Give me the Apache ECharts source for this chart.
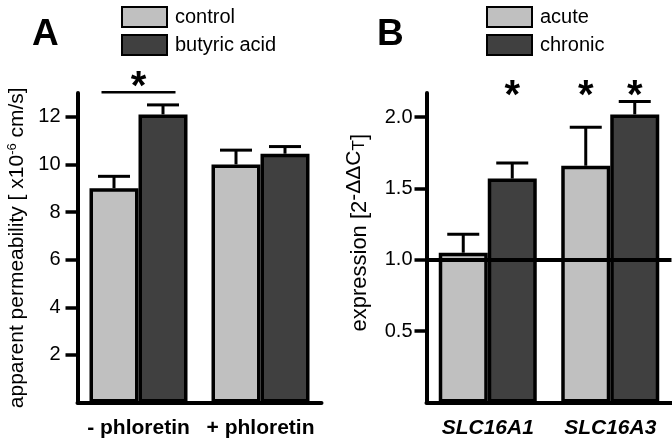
<!DOCTYPE html>
<html><head><meta charset="utf-8">
<script src="https://cdn.jsdelivr.net/npm/echarts@6/dist/echarts.min.js"></script>
<style>html,body{margin:0;padding:0;background:#fff}#c{width:672px;height:441px}</style>
</head><body><div id="c"></div>
<script>
// Panel A data
const catsA = ['- phloretin', '+ phloretin'];
const controlA = [9.0, 10.0];
const controlErrA = [9.5, 10.6];
const butyricA = [12.1, 10.45];
const butyricErrA = [12.5, 10.75];
const ticksA = [2, 4, 6, 8, 10, 12];
const sigA = [[0, 13.03]];
const starsA = [[0, 13.22]];
// Panel B data
const catsB = ['SLC16A1', 'SLC16A3'];
const acuteB = [1.05, 1.66];
const acuteErrB = [1.18, 1.93];
const chronicB = [1.57, 2.02];
const chronicErrB = [1.68, 2.11];
const ticksB = [0.5, 1.0, 1.5, 2.0];
const starsB = [[0, 1, 2.145], [1, 0, 2.145], [1, 1, 2.145]];

const LIGHT = '#c0c0c0', DARK = '#404040';
const FONT = 'Liberation Sans, Arial, sans-serif';
const BW = 49;

function errSeries(xi, yi, vals, errs, side) {
  return {
    type: 'custom', xAxisIndex: xi, yAxisIndex: yi, z: 1, silent: true,
    data: vals.map((v, i) => [i, v, errs[i]]),
    renderItem: function (params, api) {
      const top = api.coord([api.value(0), api.value(2)]);
      const base = api.coord([api.value(0), api.value(1)]);
      const x = top[0] + side * BW / 2;
      const st = { stroke: '#000', lineWidth: 3 };
      return { type: 'group', children: [
        { type: 'line', shape: { x1: x, y1: base[1], x2: x, y2: top[1] }, style: st },
        { type: 'line', shape: { x1: x - 16, y1: top[1], x2: x + 16, y2: top[1] }, style: st }
      ]};
    }
  };
}

function starSeries(xi, yi, data, hasSide) {
  return {
    type: 'custom', xAxisIndex: xi, yAxisIndex: yi, clip: false, silent: true, z: 5,
    data: data,
    renderItem: function (params, api) {
      const p = hasSide ? api.coord([api.value(0), api.value(2)]) : api.coord([api.value(0), api.value(1)]);
      const off = hasSide ? (api.value(1) ? BW / 2 : -BW / 2) : 0;
      return { type: 'text', x: p[0] + off, y: p[1],
        style: { text: '*', fontSize: 40, fontWeight: 'bold', fontFamily: FONT, fill: '#000',
          align: 'center', verticalAlign: 'middle' } };
    }
  };
}

const barBase = { type: 'bar', barWidth: BW, barGap: '0%' };
const axisLineStyle = { show: true, lineStyle: { color: '#000', width: 4 } };
const legendText = { fontSize: 20, fontFamily: FONT, color: '#000', padding: [0, 0, 0, 3] };

const option = {
  animation: false,
  backgroundColor: '#fff',
  title: [
    { text: 'A', left: 27, top: 11, textStyle: { fontSize: 37, fontWeight: 'bold', fontFamily: FONT, color: '#000' } },
    { text: 'B', left: 372, top: 11, textStyle: { fontSize: 37, fontWeight: 'bold', fontFamily: FONT, color: '#000' } }
  ],
  legend: [
    { orient: 'vertical', left: 116, top: 1, itemWidth: 45, itemHeight: 20, itemGap: 6, icon: 'rect',
      data: ['control', 'butyric acid'], textStyle: legendText },
    { orient: 'vertical', left: 481, top: 1, itemWidth: 45, itemHeight: 20, itemGap: 6, icon: 'rect',
      data: ['acute', 'chronic'], textStyle: legendText }
  ],
  grid: [
    { left: 77.5, top: 93, width: 244, height: 309.5 },
    { left: 426.5, top: 93, width: 245, height: 309.5 }
  ],
  xAxis: [
    { type: 'category', gridIndex: 0, data: catsA, axisLine: axisLineStyle, axisTick: { show: false },
      axisLabel: { interval: 0, hideOverlap: false, margin: 15, fontSize: 21, fontWeight: 'bold', fontFamily: FONT, color: '#000' } },
    { type: 'category', gridIndex: 1, data: catsB, axisLine: axisLineStyle, axisTick: { show: false },
      axisLabel: { interval: 0, hideOverlap: false, margin: 15, fontSize: 21, fontWeight: 'bold', fontStyle: 'italic', fontFamily: FONT, color: '#000' } }
  ],
  yAxis: [
    { type: 'value', gridIndex: 0, min: 0, max: 13, splitLine: { show: false },
      axisLine: axisLineStyle,
      axisTick: { show: true, length: 12, lineStyle: { color: '#000', width: 3.5 }, customValues: ticksA },
      axisLabel: { margin: 17, fontSize: 20, fontFamily: FONT, color: '#000', customValues: ticksA },
      name: '{n|apparent permeability [ x10}{s|-6}{n| cm/s]}', nameLocation: 'middle', nameGap: 48, nameRotate: 90,
      nameTextStyle: { rich: {
        n: { fontSize: 21, fontFamily: FONT, color: '#000' },
        s: { fontSize: 13, fontFamily: FONT, color: '#000', padding: [0, 0, 11, 0] } } } },
    { type: 'value', gridIndex: 1, min: 0, max: 2.17, splitLine: { show: false },
      axisLine: axisLineStyle,
      axisTick: { show: true, length: 12, lineStyle: { color: '#000', width: 3.5 }, customValues: ticksB },
      axisLabel: { margin: 14, fontSize: 20, fontFamily: FONT, color: '#000', customValues: ticksB,
        formatter: v => v.toFixed(1) },
      name: '{n|expression [2}{s|-ΔΔC}{t|T}{n|]}', nameLocation: 'middle', nameGap: 50, nameRotate: 90,
      nameTextStyle: { padding: [0, 0, 0, 30], rich: {
        n: { fontSize: 22, fontFamily: FONT, color: '#000' },
        s: { fontSize: 21, fontFamily: FONT, color: '#000', padding: [0, 0, 12, 0] },
        t: { fontSize: 17, fontFamily: FONT, color: '#000', padding: [0, 0, 2, 0] } } } }
  ],
  series: [
    Object.assign({}, barBase, { name: 'control', xAxisIndex: 0, yAxisIndex: 0, data: controlA, itemStyle: { color: LIGHT, borderColor: '#000', borderWidth: 3.5 } }),
    Object.assign({}, barBase, { name: 'butyric acid', xAxisIndex: 0, yAxisIndex: 0, data: butyricA, itemStyle: { color: DARK, borderColor: '#000', borderWidth: 3.5 } }),
    errSeries(0, 0, controlA, controlErrA, -1),
    errSeries(0, 0, butyricA, butyricErrA, 1),
    {
      type: 'custom', xAxisIndex: 0, yAxisIndex: 0, clip: false, silent: true, data: sigA,
      renderItem: function (params, api) {
        const p = api.coord([api.value(0), api.value(1)]);
        return { type: 'line', shape: { x1: p[0] - 37, y1: p[1], x2: p[0] + 37, y2: p[1] }, style: { stroke: '#000', lineWidth: 2.5 } };
      }
    },
    starSeries(0, 0, starsA, false),
    Object.assign({}, barBase, { name: 'acute', xAxisIndex: 1, yAxisIndex: 1, data: acuteB, itemStyle: { color: LIGHT, borderColor: '#000', borderWidth: 3.5 },
      markLine: { silent: true, symbol: 'none', label: { show: false }, lineStyle: { color: '#000', width: 4, type: 'solid' }, data: [{ yAxis: 1.0 }] } }),
    Object.assign({}, barBase, { name: 'chronic', xAxisIndex: 1, yAxisIndex: 1, data: chronicB, itemStyle: { color: DARK, borderColor: '#000', borderWidth: 3.5 } }),
    errSeries(1, 1, acuteB, acuteErrB, -1),
    errSeries(1, 1, chronicB, chronicErrB, 1),
    starSeries(1, 1, starsB, true)
  ]
};
const chart = echarts.init(document.getElementById('c'), null, { renderer: 'canvas' });
chart.setOption(option);
</script></body></html>
